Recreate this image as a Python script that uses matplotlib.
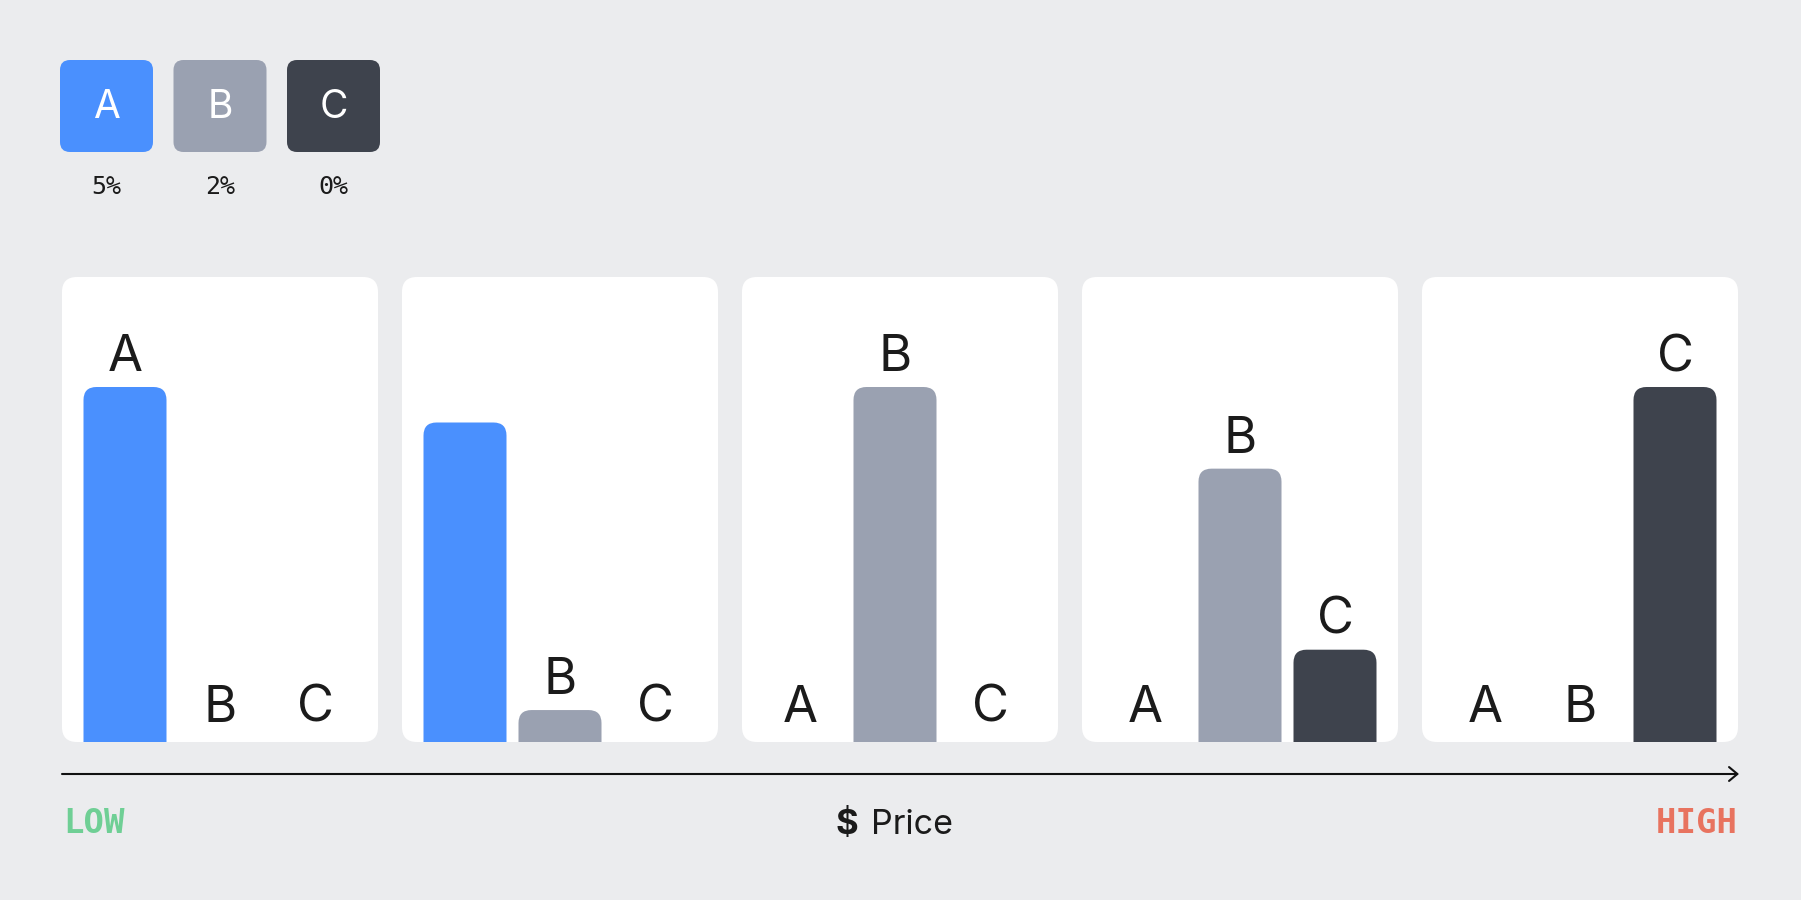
import matplotlib
matplotlib.use("Agg")
import matplotlib.pyplot as plt
from matplotlib.patches import FancyBboxPatch, FancyArrowPatch

# ---------------- data ----------------
series = ["A", "B", "C"]
legend_values = ["5%", "2%", "0%"]
# one entry per price segment (low -> high), values for A, B, C
panel_A = [100, 90, 0, 0, 0]
panel_B = [0, 9, 100, 77, 0]
panel_C = [0, 0, 0, 26, 100]
# whether each bar letter is printed (A's letter is absent in 2nd segment)
label_A = [True, False, True, True, True]
label_B = [True, True, True, True, True]
label_C = [True, True, True, True, True]
axis_low = "LOW"
axis_high = "HIGH"
axis_title = "Price"

# ---------------- style ----------------
BG = "#ebecee"
COLORS = ["#4a90fe", "#9aa1b1", "#3e434d"]
TXT = "#1b1b1b"
W, H = 1801, 900

fig = plt.figure(figsize=(W / 100, H / 100), dpi=100)
fig.patch.set_facecolor(BG)

bg = fig.add_axes([0, 0, 1, 1], zorder=0)
bg.set_xlim(0, W)
bg.set_ylim(H, 0)
bg.axis("off")

# legend boxes
for i, (s, v) in enumerate(zip(series, legend_values)):
    x0 = 60 + i * 113.5
    box = FancyBboxPatch((x0, 60), 93, 92,
                         boxstyle="round,pad=0,rounding_size=10",
                         fc=COLORS[i], ec="none", lw=0)
    bg.add_patch(box)
    bg.text(x0 + 46.5, 107, s, color="white", fontsize=28, family="Inter",
            ha="center", va="center")
    bg.text(x0 + 46.5, 194, v, color=TXT, fontsize=18, family="DejaVu Sans Mono",
            ha="center", va="baseline")

# panels
n_panels = len(panel_A)
px0, pw, py0, ph, pstep = 62, 316, 277, 465, 340
slot_shift_px = [0, 0, -5, 0, 0]
slot_px = 95.0
bar_w = 83 / slot_px
ymax = 100 * ph / 355.0
for p in range(n_panels):
    x0 = px0 + p * pstep
    bg.add_patch(FancyBboxPatch((x0, py0), pw, ph,
                                boxstyle="round,pad=0,rounding_size=15",
                                fc="white", ec="none", lw=0))
    ax = fig.add_axes([x0 / W, (H - py0 - ph) / H, pw / W, ph / H], zorder=2)
    ax.set_facecolor("none")
    half = (pw / 2) / slot_px
    c = 1 - slot_shift_px[p] / slot_px
    ax.set_xlim(c - half, c + half)
    ax.set_ylim(0, ymax)
    ax.axis("off")
    xpx_per_unit = slot_px
    ypx_per_unit = 355.0 / 100
    aspect = xpx_per_unit / ypx_per_unit
    r = 13 / xpx_per_unit
    vals = [panel_A[p], panel_B[p], panel_C[p]]
    shows = [label_A[p], label_B[p], label_C[p]]
    for j, v in enumerate(vals):
        if v > 0:
            bar = FancyBboxPatch((j - bar_w / 2, -20), bar_w, v + 20,
                                 boxstyle=f"round,pad=0,rounding_size={r}",
                                 mutation_aspect=aspect,
                                 fc=COLORS[j], ec="none", lw=0)
            ax.add_patch(bar)
            bar.set_clip_path(ax.patch)
        if shows[j]:
            off = 16 if v > 0 else 20
            ax.annotate(series[j], (j, v), xytext=(0, off * 72 / 100),
                        textcoords="offset points", ha="center", va="baseline",
                        fontsize=36.5, family="Inter", color=TXT)

# axis arrow
arrow = FancyArrowPatch((62, 774), (1739, 774),
                        arrowstyle="->,head_length=0.3,head_width=0.25",
                        mutation_scale=20, color="#111111", lw=1.5,
                        shrinkA=0, shrinkB=0)
bg.add_patch(arrow)

bg.text(63, 833, axis_low, color="#6fcf95", fontsize=24.5, fontweight="bold",
        family="DejaVu Sans Mono", ha="left", va="baseline")
bg.text(1738, 833, axis_high, color="#e8735f", fontsize=24.5, fontweight="bold",
        family="DejaVu Sans Mono", ha="right", va="baseline")
bg.text(858, 834, "$", color=TXT, fontsize=25, fontweight="bold",
        family="Inter", ha="right", va="baseline")
bg.text(871, 834, axis_title, color=TXT, fontsize=24.5,
        family="Inter", ha="left", va="baseline")

fig.savefig("out.png", dpi=100, facecolor=BG)
